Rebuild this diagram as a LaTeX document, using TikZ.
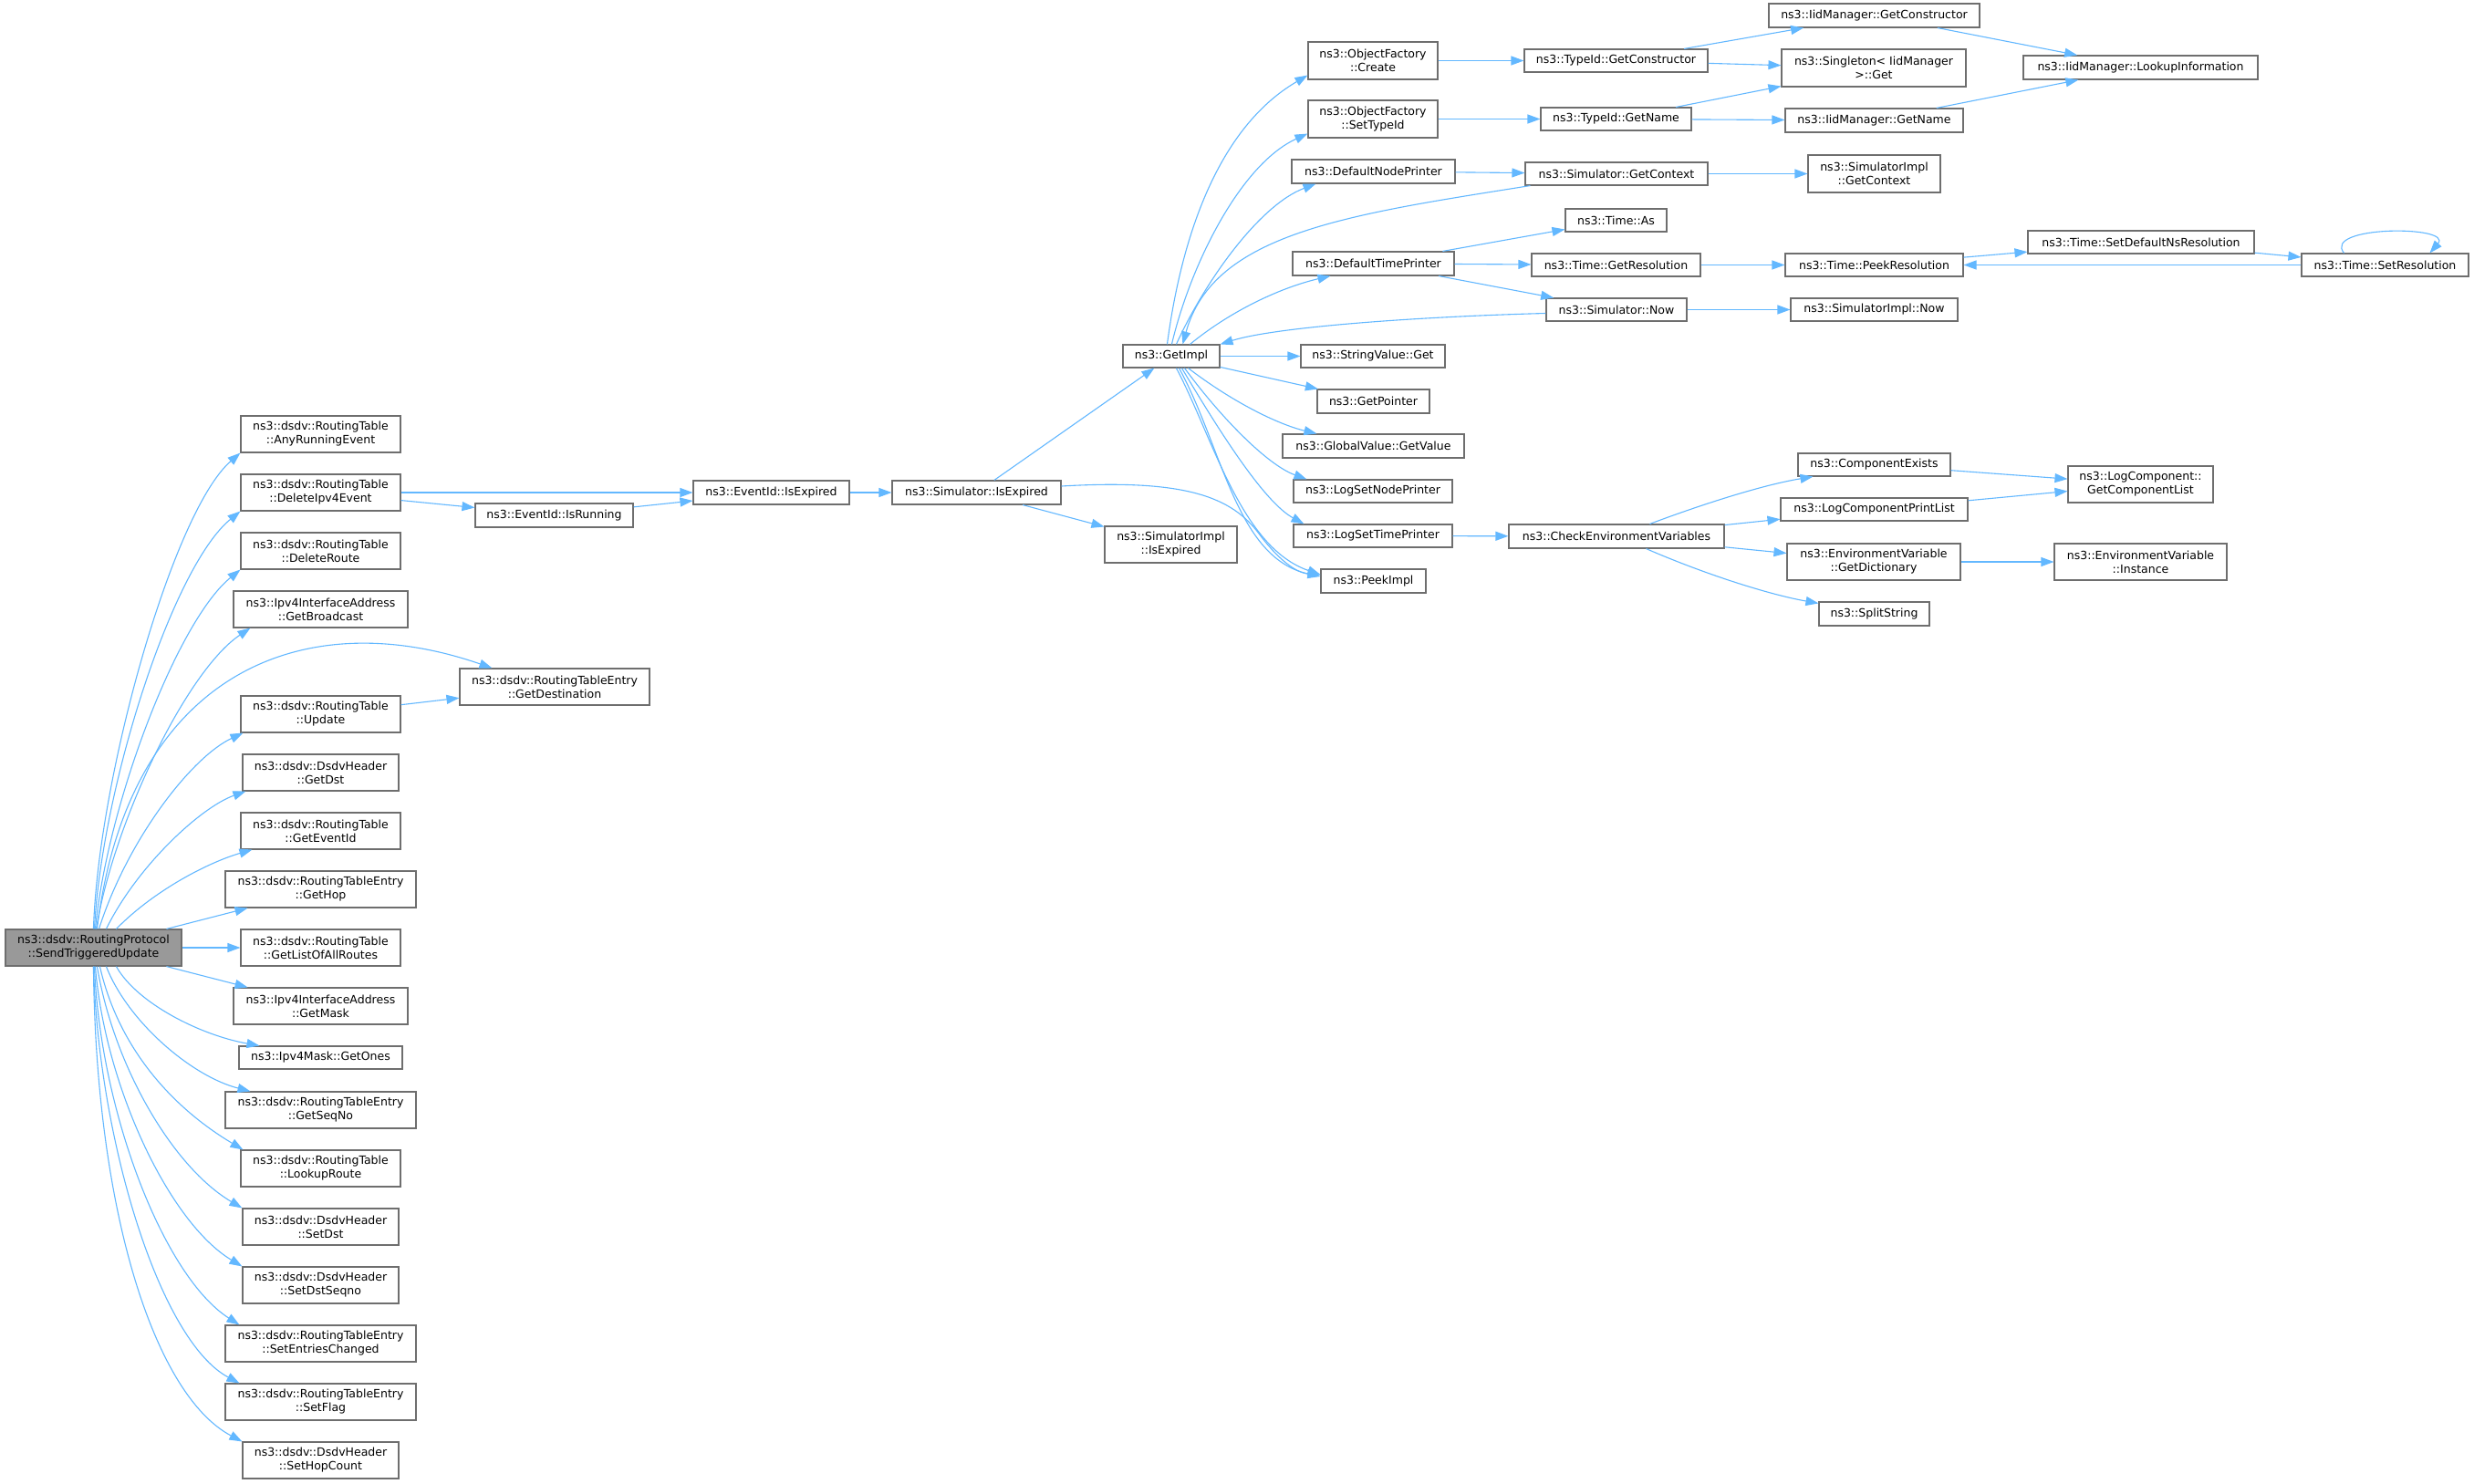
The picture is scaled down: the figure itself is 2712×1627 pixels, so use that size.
\documentclass[tikz,border=0pt]{standalone}
\usepackage{fontspec}
\setmainfont{DejaVu Sans}
\usetikzlibrary{arrows.meta}
\definecolor{edgec}{HTML}{63B8FF}
\definecolor{boxc}{HTML}{6E6E6E}
\definecolor{rootc}{HTML}{999999}
\tikzset{
  box/.style={draw=boxc, line width=1.1pt, fill=white, inner sep=0pt, align=center,
    font=\fontsize{12.5pt}{15pt}\selectfont, text=black},
  edg/.style={draw=edgec, line width=1.1pt, -{Triangle[length=14pt,width=10pt]}}
}
\newcommand\nd[7][]{%
  \pgfmathsetmacro\ndw{#4-#2}\pgfmathsetmacro\ndh{#5-#3}%
  \pgfmathsetmacro\ndx{(#2+#4)/2}\pgfmathsetmacro\ndy{(#3+#5)/2}%
  \node[box,#1,minimum width=\ndw pt,minimum height=\ndh pt] (#6) at (\ndx,\ndy) {#7};}
\begin{document}
\begin{tikzpicture}[x=1pt,y=-1pt]
\useasboundingbox (0,0) rectangle (2712,1627);
\fill[white] (0,0) rectangle (2712,1627);
% root
\nd[fill=rootc]{6}{1019}{199}{1059}{root}{ns3::dsdv::RoutingProtocol\\::SendTriggeredUpdate}
% left column
\nd{264}{456}{439}{496}{are}{ns3::dsdv::RoutingTable\\::AnyRunningEvent}
\nd{264}{520}{439}{560}{dip}{ns3::dsdv::RoutingTable\\::DeleteIpv4Event}
\nd{264}{584}{439}{624}{drt}{ns3::dsdv::RoutingTable\\::DeleteRoute}
\nd{256}{648}{447}{688}{gbc}{ns3::Ipv4InterfaceAddress\\::GetBroadcast}
\nd{264}{763}{439}{803}{upd}{ns3::dsdv::RoutingTable\\::Update}
\nd{266}{827}{437}{867}{gdst}{ns3::dsdv::DsdvHeader\\::GetDst}
\nd{264}{891}{439}{931}{gev}{ns3::dsdv::RoutingTable\\::GetEventId}
\nd{247}{955}{456}{995}{ghop}{ns3::dsdv::RoutingTableEntry\\::GetHop}
\nd{264}{1019}{439}{1059}{glr}{ns3::dsdv::RoutingTable\\::GetListOfAllRoutes}
\nd{256}{1083}{447}{1123}{gmask}{ns3::Ipv4InterfaceAddress\\::GetMask}
\nd{262}{1147}{441}{1172}{gones}{ns3::Ipv4Mask::GetOnes}
\nd{247}{1197}{456}{1237}{gseq}{ns3::dsdv::RoutingTableEntry\\::GetSeqNo}
\nd{264}{1261}{439}{1301}{lkr}{ns3::dsdv::RoutingTable\\::LookupRoute}
\nd{266}{1325}{437}{1365}{sdst}{ns3::dsdv::DsdvHeader\\::SetDst}
\nd{266}{1389}{437}{1429}{sdsq}{ns3::dsdv::DsdvHeader\\::SetDstSeqno}
\nd{247}{1453}{456}{1493}{sec}{ns3::dsdv::RoutingTableEntry\\::SetEntriesChanged}
\nd{247}{1517}{456}{1557}{sfl}{ns3::dsdv::RoutingTableEntry\\::SetFlag}
\nd{266}{1581}{437}{1621}{shc}{ns3::dsdv::DsdvHeader\\::SetHopCount}
% middle
\nd{504}{733}{712}{773}{gdest}{ns3::dsdv::RoutingTableEntry\\::GetDestination}
\nd{521}{552}{694}{578}{eir}{ns3::EventId::IsRunning}
\nd{760}{527}{931}{553}{eie}{ns3::EventId::IsExpired}
\nd{978}{527}{1163}{553}{sie}{ns3::Simulator::IsExpired}
\nd{1211}{577}{1356}{617}{siie}{ns3::SimulatorImpl\\::IsExpired}
\nd{1231}{378}{1337}{403}{gimpl}{ns3::GetImpl}
\nd{1434}{46}{1576}{87}{ofc}{ns3::ObjectFactory\\::Create}
\nd{1434}{110}{1576}{151}{ofs}{ns3::ObjectFactory\\::SetTypeId}
\nd{1416}{175}{1595}{201}{dnp}{ns3::DefaultNodePrinter}
\nd{1417}{276}{1594}{302}{dtp}{ns3::DefaultTimePrinter}
\nd{1426}{378}{1584}{403}{svg}{ns3::StringValue::Get}
\nd{1444}{427}{1567}{453}{gptr}{ns3::GetPointer}
\nd{1406}{476}{1605}{502}{gvgv}{ns3::GlobalValue::GetValue}
\nd{1418}{526}{1592}{551}{lsnp}{ns3::LogSetNodePrinter}
\nd{1418}{575}{1592}{600}{lstp}{ns3::LogSetTimePrinter}
\nd{1448}{624}{1563}{650}{peek}{ns3::PeekImpl}
% right
\nd{1671}{54}{1872}{79}{tgc}{ns3::TypeId::GetConstructor}
\nd{1689}{118}{1854}{143}{tgn}{ns3::TypeId::GetName}
\nd{1672}{178}{1872}{203}{sgc}{ns3::Simulator::GetContext}
\nd{1716}{229}{1827}{254}{tas}{ns3::Time::As}
\nd{1679}{278}{1864}{303}{tgr}{ns3::Time::GetResolution}
\nd{1695}{327}{1849}{352}{snow}{ns3::Simulator::Now}
\nd{1654}{575}{1890}{601}{cev}{ns3::CheckEnvironmentVariables}
\nd{1939}{4}{2170}{30}{igc}{ns3::IidManager::GetConstructor}
\nd{1953}{54}{2155}{95}{sgt}{ns3::Singleton< IidManager\\>::Get}
\nd{1957}{119}{2152}{145}{ign}{ns3::IidManager::GetName}
\nd{1982}{170}{2127}{211}{sigc}{ns3::SimulatorImpl\\::GetContext}
\nd{1957}{278}{2152}{303}{tpr}{ns3::Time::PeekResolution}
\nd{1963}{327}{2146}{352}{sinow}{ns3::SimulatorImpl::Now}
\nd{1971}{497}{2138}{522}{cex}{ns3::ComponentExists}
\nd{1952}{546}{2157}{571}{lcpl}{ns3::LogComponentPrintList}
\nd{1959}{596}{2149}{636}{evgd}{ns3::EnvironmentVariable\\::GetDictionary}
\nd{1994}{660}{2115}{686}{sps}{ns3::SplitString}
\nd{2218}{61}{2475}{87}{ili}{ns3::IidManager::LookupInformation}
\nd{2223}{253}{2471}{278}{tsdn}{ns3::Time::SetDefaultNsResolution}
\nd{2267}{511}{2426}{551}{lcgl}{ns3::LogComponent::\\GetComponentList}
\nd{2252}{596}{2441}{636}{evi}{ns3::EnvironmentVariable\\::Instance}
\nd{2523}{278}{2706}{303}{tsr}{ns3::Time::SetResolution}

% ---- root fan, upper
\draw[edg] ([xshift=97pt]root.north west) .. controls (108,850) and (190,560) .. (are.south west);
\draw[edg] ([xshift=98pt]root.north west) .. controls (112,860) and (190,620) .. (dip.south west);
\draw[edg] ([xshift=99pt]root.north west) .. controls (118,880) and (195,680) .. (drt.south west);
\draw[edg] ([xshift=100pt]root.north west) .. controls (125,900) and (205,735) .. ([xshift=19pt]gbc.south west);
\draw[edg] ([xshift=101pt]root.north west) .. controls (140,740) and (330,660) .. ([xshift=36pt]gdest.north west);
\draw[edg] ([xshift=103pt]root.north west) .. controls (140,920) and (210,830) .. ([xshift=3pt]upd.south west);
\draw[edg] ([xshift=111pt]root.north west) .. controls (150,950) and (220,885) .. ([xshift=4pt]gdst.south west);
\draw[edg] ([xshift=122pt]root.north west) .. controls (170,975) and (230,945) .. ([xshift=13pt]gev.south west);
\draw[edg] (root) -- (ghop);
\draw[edg] (root) -- (glr);
\draw[edg] (root) -- (gmask);
% ---- root fan, lower
\draw[edg] ([xshift=122pt]root.south west) .. controls (150,1100) and (220,1135) .. ([xshift=23pt]gones.north west);
\draw[edg] ([xshift=111pt]root.south west) .. controls (140,1120) and (210,1180) .. ([xshift=28pt]gseq.north west);
\draw[edg] ([xshift=104pt]root.south west) .. controls (130,1150) and (190,1215) .. ([xshift=3pt]lkr.north west);
\draw[edg] ([xshift=101pt]root.south west) .. controls (125,1170) and (190,1280) .. (sdst.north west);
\draw[edg] ([xshift=99pt]root.south west) .. controls (115,1190) and (185,1340) .. (sdsq.north west);
\draw[edg] ([xshift=98pt]root.south west) .. controls (110,1220) and (180,1400) .. ([xshift=16pt]sec.north west);
\draw[edg] ([xshift=97pt]root.south west) .. controls (108,1250) and (175,1470) .. ([xshift=16pt]sfl.north west);
\draw[edg] ([xshift=97pt]root.south west) .. controls (105,1330) and (170,1530) .. (shc.north west);

% ---- middle
\draw[edg] (dip) -- (eie);
\draw[edg] (dip) -- (eir);
\draw[edg] (eir) -- (eie);
\draw[edg] (upd) -- (gdest);
\draw[edg] (eie) -- (sie);
\draw[edg] (sie) -- (siie);
\draw[edg] (sie) -- (gimpl);
\draw[edg] ([yshift=7pt]sie.east) .. controls (1300,525) and (1350,545) .. (1380,585)
  .. controls (1400,612) and (1420,628) .. ([yshift=7pt]peek.west);

% ---- GetImpl fan
\draw[edg] ([xshift=49pt]gimpl.north west) .. controls (1295,260) and (1335,140) .. ([yshift=5pt]ofc.south west);
\draw[edg] ([xshift=54pt]gimpl.north west) .. controls (1305,290) and (1360,180) .. ([yshift=5pt]ofs.south west);
\draw[edg] ([xshift=59pt]gimpl.north west) .. controls (1320,310) and (1380,225) .. ([xshift=27pt]dnp.south west);
\draw[edg] ([xshift=74pt]gimpl.north west) .. controls (1350,340) and (1405,315) .. ([xshift=42pt]dtp.south west);
\draw[edg] (gimpl) -- (svg);
\draw[edg] (gimpl) -- (gptr);
\draw[edg] ([xshift=72pt]gimpl.south west) .. controls (1350,440) and (1400,465) .. ([xshift=38pt]gvgv.north west);
\draw[edg] ([xshift=68pt]gimpl.south west) .. controls (1340,460) and (1390,510) .. ([xshift=15pt]lsnp.north west);
\draw[edg] ([xshift=65pt]gimpl.south west) .. controls (1335,470) and (1385,550) .. ([xshift=12pt]lstp.north west);
\draw[edg] ([xshift=59pt]gimpl.south west) .. controls (1330,480) and (1360,600) .. ([yshift=7pt]peek.west);
\draw[edg] ([xshift=62pt]gimpl.south west) .. controls (1340,490) and (1355,612) .. ([yshift=5pt]peek.west);
% back edges into GetImpl
\draw[edg] ([xshift=6pt]sgc.south west) .. controls (1480,235) and (1330,255) .. ([xshift=66pt]gimpl.north west);
\draw[edg] ([yshift=-4pt]snow.west) .. controls (1560,347) and (1400,358) .. (gimpl.north east);

% ---- right part
\draw[edg] (dnp) -- (sgc);
\draw[edg] (dtp) -- (tas);
\draw[edg] (dtp) -- (tgr);
\draw[edg] (dtp) -- (snow);
\draw[edg] (ofc) -- (tgc);
\draw[edg] (ofs) -- (tgn);
\draw[edg] (tgc) -- (igc);
\draw[edg] (tgc) -- (sgt);
\draw[edg] (tgn) -- (sgt);
\draw[edg] (tgn) -- (ign);
\draw[edg] (igc) -- (ili);
\draw[edg] (ign) -- (ili);
\draw[edg] (sgc) -- (sigc);
\draw[edg] (tgr) -- (tpr);
\draw[edg] (tpr) -- (tsdn);
\draw[edg] (tsdn) -- (tsr);
\draw[edg] (tsr) -- (tpr);
\draw[edg] ([xshift=47pt]tsr.north west) .. controls (2545,247) and (2690,247) .. ([xshift=141pt]tsr.north west);
\draw[edg] (snow) -- (sinow);
\draw[edg] (lstp) -- (cev);
\draw[edg] ([xshift=155pt]cev.north west) .. controls (1860,555) and (1930,532) .. ([xshift=17pt]cex.south west);
\draw[edg] (cev) -- (lcpl);
\draw[edg] (cev) -- (evgd);
\draw[edg] ([xshift=151pt]cev.south west) .. controls (1870,630) and (1940,652) .. ([yshift=-2pt]sps.north west);
\draw[edg] (cex) -- (lcgl);
\draw[edg] (lcpl) -- (lcgl);
\draw[edg] (evgd) -- (evi);
\end{tikzpicture}
\end{document}
